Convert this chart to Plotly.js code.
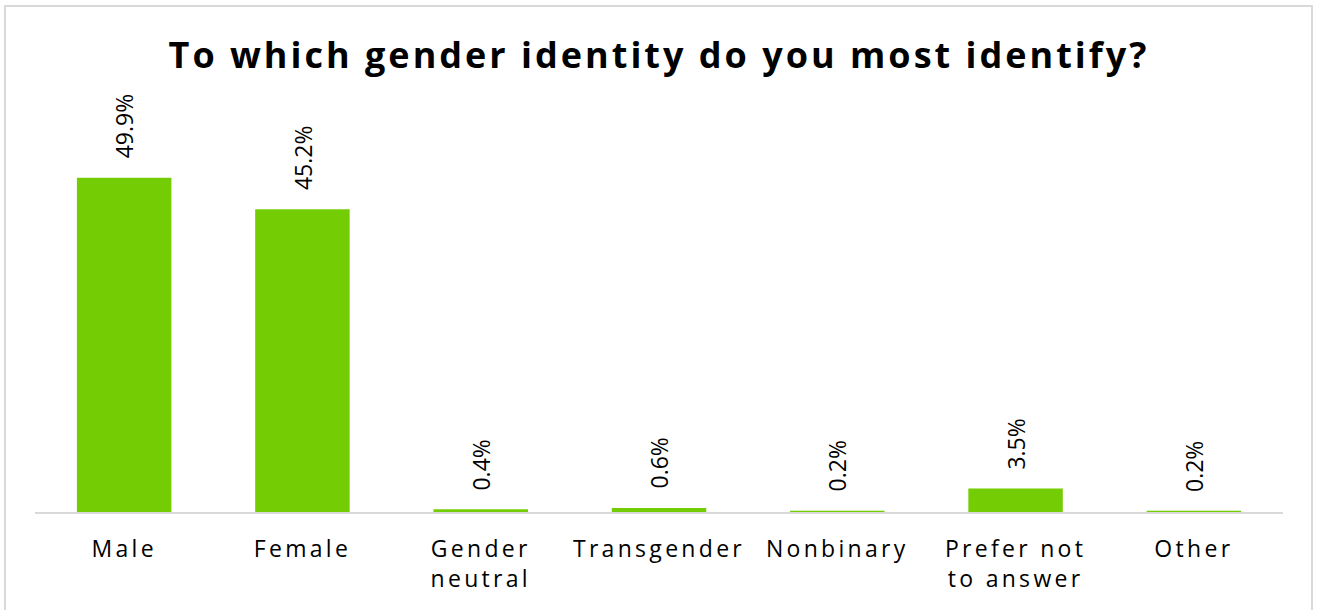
<!DOCTYPE html>
<html>
<head>
<meta charset="utf-8">
<script src="https://cdn.plot.ly/plotly-3.0.1.min.js"></script>
<style>
  html, body { margin: 0; padding: 0; background: #ffffff; }
  #wrap { position: relative; width: 1317px; height: 610px; overflow: hidden; }
  #chart { position: absolute; left: 0; top: 0; width: 1317px; height: 610px; }
  #frame { position: absolute; left: 4px; top: 5px; width: 1305px; height: 640px;
           border: 2px solid #d9d9d9; pointer-events: none; }
  .xtick text { letter-spacing: 3.3px; }
  .gtitle { letter-spacing: 3px; }
</style>
</head>
<body>
<div id="wrap">
  <div id="chart"></div>
  <div id="frame"></div>
</div>
<script>
const categories = ["Male", "Female", "Gender<br>neutral", "Transgender", "Nonbinary", "Prefer not<br>to answer", "Other"];
const percents = [49.9, 45.2, 0.4, 0.6, 0.2, 3.5, 0.2];
const valueLabels = ["49.9%", "45.2%", "0.4%", "0.6%", "0.2%", "3.5%", "0.2%"];
const chartTitle = "To which gender identity do you most identify?";

const barColor = "#74cc04";

const trace = {
  type: "bar",
  x: categories,
  y: percents,
  marker: { color: barColor, line: { width: 0 } },
  width: 0.53,
  hoverinfo: "skip"
};

const annotations = categories.map((c, i) => ({
  x: c,
  y: percents[i],
  xref: "x",
  yref: "y",
  text: valueLabels[i],
  textangle: -90,
  showarrow: false,
  xanchor: "center",
  yanchor: "bottom",
  yshift: 17,
  font: { family: "Open Sans, sans-serif", size: 23, color: "#000000" }
}));

const layout = {
  width: 1317,
  height: 610,
  margin: { l: 35, r: 34, t: 110, b: 98, pad: 0 },
  paper_bgcolor: "rgba(0,0,0,0)",
  plot_bgcolor: "rgba(0,0,0,0)",
  showlegend: false,
  title: {
    text: "<b>" + chartTitle + "</b>",
    font: { family: "Open Sans, sans-serif", size: 36, color: "#000000" },
    x: 0.5,
    xanchor: "center",
    xref: "paper",
    yref: "container",
    y: 1 - 55 / 610,
    yanchor: "middle"
  },
  xaxis: {
    type: "category",
    showline: true,
    linecolor: "#d9d9d9",
    linewidth: 2,
    ticks: "",
    showgrid: false,
    zeroline: false,
    ticklabelstandoff: 15,
    tickfont: { family: "Open Sans, sans-serif", size: 23, color: "#000000" },
    fixedrange: true
  },
  yaxis: {
    range: [0, 60],
    visible: false,
    showgrid: false,
    zeroline: false,
    fixedrange: true
  },
  annotations: annotations,
  bargap: 0.47
};

Plotly.newPlot("chart", [trace], layout, { displayModeBar: false, staticPlot: true });
</script>
</body>
</html>
